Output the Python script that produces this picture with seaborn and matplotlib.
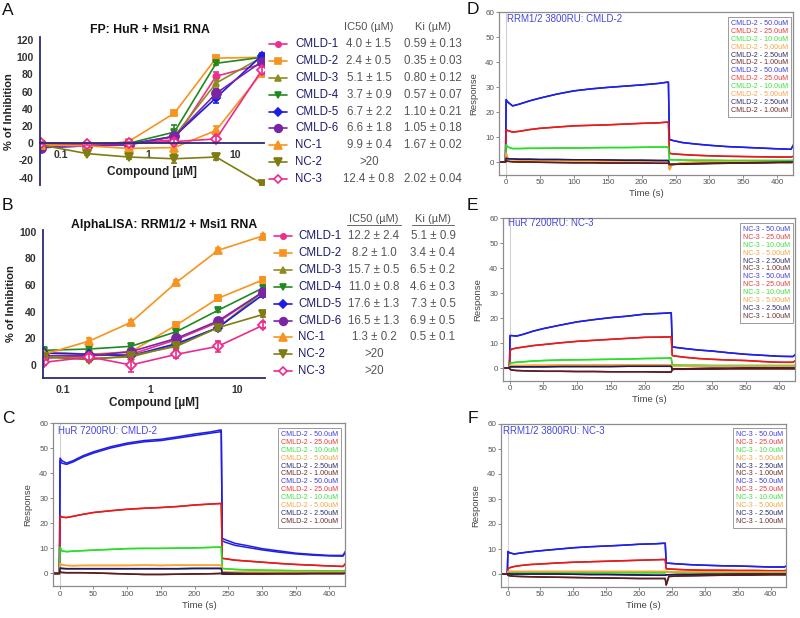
import numpy as np
import pandas as pd
import matplotlib
matplotlib.use("Agg")
import matplotlib.pyplot as plt
import seaborn as sns
from matplotlib.lines import Line2D

# ------------------------------------------------------------------ data
compounds = ["CMLD-1", "CMLD-2", "CMLD-3", "CMLD-4", "CMLD-5", "CMLD-6", "NC-1", "NC-2", "NC-3"]
doses = [0.06, 0.2, 0.6, 2, 6, 20]

fp_values = {
    "CMLD-1": [0, -1, 0, 4, 78, 92],
    "CMLD-2": [-2, -3, 2, 35, 99, 100],
    "CMLD-3": [-3, -3, -1, 8, 70, 100],
    "CMLD-4": [-3, -2, 0, 13, 93, 100],
    "CMLD-5": [-5, -3, -1, 8, 53, 102],
    "CMLD-6": [-5, -3, -2, 8, 58, 95],
    "NC-1": [-2, -3, -6, -5, 15, 82],
    "NC-2": [-2, -12, -16, -18, -16, -47],
    "NC-3": [0, -1, 0, 2, 5, 85],
}
fp_errors = {
    "CMLD-1": [2, 1, 1, 2, 5, 3], "CMLD-2": [1, 1, 1, 2, 2, 1],
    "CMLD-3": [1, 1, 1, 2, 4, 2], "CMLD-4": [1, 1, 1, 8, 2, 2],
    "CMLD-5": [1, 1, 1, 2, 6, 3], "CMLD-6": [1, 1, 1, 2, 5, 2],
    "NC-1": [1, 1, 1, 2, 5, 4], "NC-2": [1, 2, 2, 5, 3, 2],
    "NC-3": [1, 1, 1, 3, 3, 4],
}
fp_ic50 = ["4.0 ± 1.5", "2.4 ± 0.5", "5.1 ± 1.5", "3.7 ± 0.9", "6.7 ± 2.2",
           "6.6 ± 1.8", "9.9 ± 0.4", ">20", "12.4 ± 0.8"]
fp_ki = ["0.59 ± 0.13", "0.35 ± 0.03", "0.80 ± 0.12", "0.57 ± 0.07", "1.10 ± 0.21",
         "1.05 ± 0.18", "1.67 ± 0.02", "", "2.02 ± 0.04"]

al_values = {
    "CMLD-1": [5, 7, 8, 19, 32, 55],
    "CMLD-2": [10, 8, 10, 30, 50, 64],
    "CMLD-3": [6, 5, 6, 15, 28, 55],
    "CMLD-4": [11, 12, 14, 25, 41, 58],
    "CMLD-5": [9, 8, 7, 16, 28, 53],
    "CMLD-6": [7, 7, 10, 20, 33, 55],
    "NC-1": [8, 18, 32, 62, 86, 97],
    "NC-2": [6, 4, 7, 14, 28, 38],
    "NC-3": [2, 6, 0, 8, 14, 30],
}
al_errors = {
    "CMLD-1": [1, 1, 1, 2, 2, 2], "CMLD-2": [1, 2, 1, 2, 2, 2],
    "CMLD-3": [1, 2, 1, 2, 2, 2], "CMLD-4": [1, 1, 1, 1, 1, 2],
    "CMLD-5": [1, 1, 1, 1, 2, 2], "CMLD-6": [1, 1, 1, 2, 2, 2],
    "NC-1": [1, 2, 2, 2, 2, 1], "NC-2": [1, 2, 1, 2, 2, 2],
    "NC-3": [2, 2, 5, 3, 4, 2],
}
al_ic50 = ["12.2 ± 2.4", "8.2 ± 1.0", "15.7 ± 0.5", "11.0 ± 0.8", "17.6 ± 1.3",
           "16.5 ± 1.3", "1.3 ± 0.2", ">20", ">20"]
al_ki = ["5.1 ± 0.9", "3.4 ± 0.4", "6.5 ± 0.2", "4.6 ± 0.3", "7.3 ± 0.5",
         "6.9 ± 0.5", "0.5 ± 0.1", "", ""]

# SPR sensorgrams
spr_time = [-10, -0.5, 0.5, 3, 10, 20, 35, 50, 75, 100, 125, 150, 175, 200, 225, 238,
            239.5, 241, 245, 260, 280, 300, 325, 350, 375, 400, 420, 424]
conc_labels = ["50.0", "25.0", "10.0", "5.00", "2.50", "1.00"]

spr_C = {
    "50.0": [0, 0, 46, 45, 44, 45, 47, 48.5, 50.5, 52, 53, 53.5, 54.5, 55.6, 56.5, 57.2, 57.2, 14, 13.5, 12, 11, 9.9, 9, 8.1, 7.6, 7.2, 7.2, 9],
    "25.0": [0, 0, 23, 22.5, 22.3, 22.8, 23.6, 24.3, 25, 25.6, 26, 26.3, 26.7, 27.3, 27.7, 27.9, 27.9, 6, 5.9, 5.3, 4.9, 4.5, 4, 3.6, 3.3, 3, 2.8, 4],
    "10.0": [0, 0, 10.5, 9, 8.7, 8.9, 9.1, 9.3, 9.6, 9.9, 10, 10, 10.1, 10.2, 10.4, 10.5, 10.5, 2, 1.9, 1.6, 1.4, 1.3, 1.2, 1.1, 1.1, 1, 1, 1.2],
    "5.00": [0, 0, 4, 3.4, 3.2, 3.1, 3.2, 3.2, 3.2, 3.2, 3.3, 3.2, 3.3, 3.3, 3.3, 3.3, 3.3, 0.6, 0.6, 0.5, 0.5, 0.5, 0.5, 0.5, 0.5, 0.5, 0.5, 0.6],
    "2.50": [0, 0, 2.2, 2, 1.9, 1.9, 1.9, 1.9, 1.9, 1.9, 1.9, 1.9, 1.9, 2, 2, 2, 2, 0.2, 0.2, 0.1, 0, 0, 0, 0, 0, 0, 0, 0.2],
    "1.00": [0, 0, 0.6, 0.4, 0.3, 0.3, 0.3, 0.2, 0, -0.2, -0.4, -0.4, -0.3, -0.2, -0.1, 0, 0, -0.3, -0.3, -0.3, -0.2, -0.2, -0.1, -0.1, 0, 0, 0, 0],
}
spr_C_rep2 = {
    "50.0": [0, 0, 45, 44, 43.5, 44.5, 46.5, 48, 50, 51.5, 52.5, 53, 54, 55, 56, 56.5, 56.5, 13, 12.5, 11.2, 10.3, 9.4, 8.5, 7.8, 7.3, 7, 6.9, 8.5],
}
spr_D = {
    "50.0": [0, 0, 25, 24, 22.5, 23.2, 24.5, 25.6, 27.2, 28.5, 29.3, 29.9, 30.4, 30.9, 31.5, 32, 32, 9, 8.7, 7.8, 7.2, 6.7, 6.2, 5.9, 5.6, 5.3, 5.1, 7],
    "25.0": [0, 0, 13, 12.6, 12, 12.3, 13, 13.5, 14, 14.5, 14.7, 14.9, 15.2, 15.5, 15.7, 16, 16, 3.5, 3.3, 3, 2.7, 2.5, 2.3, 2.2, 2.1, 2, 2, 2.3],
    "10.0": [0, 0, 7, 6, 5.4, 5.4, 5.5, 5.5, 5.6, 5.6, 5.7, 5.8, 5.8, 5.9, 6, 6, 6, 1, 0.9, 0.8, 0.7, 0.7, 0.6, 0.6, 0.6, 0.6, 0.6, 0.7],
    "5.00": [0, 0, 3.6, 1.5, 0.9, 0.8, 0.7, 0.6, 0.6, 0.5, 0.5, 0.5, 0.5, 0.5, 0.5, 0.5, 0.5, -3.1, -1, -0.3, 0, 0, 0, 0, 0, 0, 0, 0.2],
    "2.50": [0, 0, 1.6, 1.3, 1.2, 1.1, 1.1, 1, 1, 0.9, 0.9, 0.8, 0.7, 0.7, 0.6, 0.6, 0.6, -1, -1, -0.8, -0.6, -0.5, -0.4, -0.3, -0.2, -0.1, 0, 0],
    "1.00": [0, 0, 0.5, 0.3, 0.1, 0, 0, -0.1, -0.2, -0.3, -0.3, -0.4, -0.4, -0.4, -0.5, -0.5, -0.5, -1, -0.9, -0.8, -0.7, -0.6, -0.5, -0.4, -0.3, -0.2, -0.2, -0.1],
}
spr_E = {
    "50.0": [0, 0, 13, 13, 12.8, 13.5, 14.8, 15.8, 17.2, 18.5, 19.4, 20.2, 20.8, 21.6, 21.9, 22.1, 22.1, 8.5, 8.3, 7.8, 7.2, 6.8, 6.1, 5.5, 5.1, 4.7, 4.6, 5.5],
    "25.0": [0, 0, 7, 7.6, 8, 8.4, 9, 9.4, 10.1, 10.7, 11.1, 11.5, 11.9, 12.3, 12.4, 12.5, 12.5, 5, 4.8, 4.3, 3.8, 3.5, 3.2, 3, 2.6, 2.3, 2.3, 3],
    "10.0": [0, 0, 2, 2.1, 2.3, 2.5, 2.8, 3, 3.2, 3.3, 3.4, 3.5, 3.6, 3.8, 3.9, 4, 4, 1.3, 1.2, 1.1, 1.1, 1, 1, 1, 1, 1, 1, 1.1],
    "5.00": [0, 0, 1, 1, 1, 1, 1.1, 1.1, 1.2, 1.2, 1.2, 1.3, 1.3, 1.3, 1.3, 1.3, 1.3, 0.8, 0.8, 0.8, 0.8, 0.8, 0.8, 0.8, 0.8, 0.8, 0.8, 0.9],
    "2.50": [0, 0, 0.5, 0.5, 0.5, 0.5, 0.5, 0.5, 0.6, 0.6, 0.6, 0.6, 0.7, 0.7, 0.7, 0.7, 0.7, -0.5, -0.4, -0.3, -0.2, -0.1, -0.1, 0, 0, 0, 0, 0],
    "1.00": [0, 0, -0.5, -0.8, -1, -1.1, -1.2, -1.3, -1.3, -1.4, -1.4, -1.5, -1.5, -1.5, -1.6, -1.6, -1.6, -0.6, -0.5, -0.5, -0.4, -0.4, -0.3, -0.3, -0.3, -0.3, -0.3, -0.3],
}
spr_F = {
    "50.0": [0, 0, 9, 8.5, 8, 8.4, 8.9, 9.3, 9.9, 10.5, 10.9, 11.2, 11.5, 11.9, 12.1, 12.3, 12.3, 4.3, 4.3, 4, 3.7, 3.5, 3.3, 3.2, 3, 2.8, 2.8, 3.2],
    "25.0": [0, 0, 2, 2.5, 3, 3.4, 3.8, 4, 4.4, 4.7, 4.9, 5.1, 5.3, 5.5, 5.7, 5.8, 5.8, 2.1, 2, 1.8, 1.6, 1.5, 1.5, 1.4, 1.4, 1.3, 1.3, 1.5],
    "10.0": [0, 0, 1, 0.6, 0.5, 0.5, 0.5, 0.5, 0.5, 0.5, 0.5, 0.5, 0.5, 0.5, 0.5, 0.5, 0.5, 1, 0.7, 0.6, 0.5, 0.5, 0.5, 0.5, 0.5, 0.5, 0.5, 0.6],
    "5.00": [0, 0, 1, 1, 1, 1, 1, 1, 1, 1, 1, 1, 1, 1, 1, 1, 1, 0.8, 0.8, 0.8, 0.8, 0.8, 0.8, 0.8, 0.8, 0.8, 0.8, 0.9],
    "2.50": [0, 0, 0.2, 0, 0, 0, 0, 0, 0, -0.1, -0.2, -0.2, -0.3, -0.4, -0.5, -0.5, -0.5, -0.3, -0.3, -0.2, -0.2, -0.1, -0.1, 0, 0, 0, 0, 0],
    "1.00": [0, 0, -0.5, -0.7, -0.9, -1, -1.1, -1.2, -1.3, -1.4, -1.5, -1.6, -1.7, -1.8, -1.8, -1.8, -1.8, -4.4, -1, -0.8, -0.7, -0.6, -0.5, -0.5, -0.4, -0.3, -0.3, -0.3],
}
spr_titles = ["HuR 7200RU: CMLD-2", "RRM1/2 3800RU: CMLD-2", "HuR 7200RU: NC-3", "RRM1/2 3800RU: NC-3"]
spr_compound = ["CMLD-2", "CMLD-2", "NC-3", "NC-3"]

# ------------------------------------------------------------------ style
sns.set_theme(style="white")
plt.rcParams["font.family"] = ["Liberation Sans", "DejaVu Sans"]
plt.rcParams["axes.unicode_minus"] = False

W, H = 800, 618
fig = plt.figure(figsize=(8, 6.18), dpi=100)


def rect(l, t, r, b):
    return [l / W, 1 - b / H, (r - l) / W, (b - t) / H]


def fx(x):
    return x / W


def fy(y):
    return 1 - y / H


NAVY = "#2a2a78"
styles = {
    "CMLD-1": dict(color="#ec2f8e", marker="o", ms=4.5, mfc="#ec2f8e"),
    "CMLD-2": dict(color="#f7931e", marker="s", ms=5, mfc="#f7931e"),
    "CMLD-3": dict(color="#8e8c1e", marker="^", ms=5, mfc="#8e8c1e"),
    "CMLD-4": dict(color="#1f8a1f", marker="v", ms=5, mfc="#1f8a1f"),
    "CMLD-5": dict(color="#1c1ce8", marker="D", ms=4.5, mfc="#1c1ce8"),
    "CMLD-6": dict(color="#7a26a4", marker="o", ms=6.5, mfc="#7a26a4"),
    "NC-1": dict(color="#f7931e", marker="^", ms=6, mfc="#f7931e"),
    "NC-2": dict(color="#7f7d12", marker="v", ms=6, mfc="#7f7d12"),
    "NC-3": dict(color="#ee2a8c", marker="D", ms=5, mfc="white"),
}


def dose_panel(ax, values, errors, ylim, yticks, title, title_xy, spine_at_zero):
    for c in compounds:
        st = styles[c]
        df = pd.DataFrame({"dose": doses, "val": values[c]})
        sns.lineplot(data=df, x="dose", y="val", ax=ax, color=st["color"], lw=1.2,
                     marker=st["marker"], markersize=st["ms"], markerfacecolor=st["mfc"],
                     markeredgecolor=st["color"], markeredgewidth=1.3, legend=False)
        ax.errorbar(doses, values[c], yerr=errors[c], fmt="none", ecolor=st["color"],
                    elinewidth=1.2, capsize=2.2, capthick=1.2)
    ax.set_xscale("log")
    ax.set_xlim(0.058, 21)
    ax.set_ylim(*ylim)
    ax.set_xticks([0.1, 1, 10])
    ax.set_xticklabels(["0.1", "1", "10"])
    ax.xaxis.set_minor_locator(matplotlib.ticker.NullLocator())
    ax.set_yticks(yticks)
    for s in ["top", "right"]:
        ax.spines[s].set_visible(False)
    for s in ["left", "bottom"]:
        ax.spines[s].set_color(NAVY)
        ax.spines[s].set_linewidth(1.3)
    if spine_at_zero:
        ax.spines["bottom"].set_position(("data", 0))
    ax.tick_params(axis="both", direction="out", length=3, width=1.1, color=NAVY,
                   labelsize=7.5, labelcolor="#333333", pad=1.5)
    for lab in ax.get_xticklabels() + ax.get_yticklabels():
        lab.set_fontweight("bold")
    ax.set_ylabel("% of Inhibition", fontsize=8, fontweight="bold", color="#222222", labelpad=2)
    ax.set_xlabel("Compound [µM]", fontsize=8.5, fontweight="bold", color="#222222", labelpad=2)
    fig.text(fx(title_xy[0]), fy(title_xy[1]), title, fontsize=8.8, fontweight="bold",
             ha="center", va="center", color="#111111")


axA = fig.add_axes(rect(39.8, 37.5, 263.7, 185.4))
dose_panel(axA, fp_values, fp_errors, (-49, 123), range(-40, 121, 20),
           "FP: HuR + Msi1 RNA", (150, 30), True)
axA.xaxis.set_label_coords(0.5, 0.13)
axA.xaxis.label.set_va("top")

axB = fig.add_axes(rect(42.7, 229.7, 265.3, 378.3))
dose_panel(axB, al_values, al_errors, (-10, 101.5), range(0, 101, 20),
           "AlphaLISA: RRM1/2 + Msi1 RNA", (164, 225), False)


def table(header_y, row0, step, mk_x, lab_x, ic_x, ki_x, ic50s, kis, underline):
    hdr_kw = dict(fontsize=8, color="#555555", ha="center", va="center")
    fig.text(fx(ic_x), fy(header_y), "IC50 (µM)", **hdr_kw)
    fig.text(fx(ki_x), fy(header_y), "Ki (µM)", **hdr_kw)
    if underline:
        for xc, wd in [(ic_x, 54), (ki_x, 42)]:
            fig.add_artist(Line2D([fx(xc - wd / 2), fx(xc + wd / 2)], [fy(header_y + 6)] * 2,
                                  transform=fig.transFigure, color="#666666", lw=0.7))
    for i, c in enumerate(compounds):
        y = row0 + i * step
        st = styles[c]
        fig.add_artist(Line2D([fx(mk_x - 9), fx(mk_x + 9)], [fy(y)] * 2,
                              transform=fig.transFigure, color=st["color"], lw=1.2))
        fig.add_artist(Line2D([fx(mk_x)], [fy(y)], transform=fig.transFigure,
                              color=st["color"], marker=st["marker"], ms=st["ms"] * 0.85,
                              mfc=st["mfc"], mec=st["color"], mew=1.2, lw=0))
        fig.text(fx(lab_x), fy(y), c, fontsize=8.3, color="#1b1b6b", ha="left", va="center")
        fig.text(fx(ic_x), fy(y), ic50s[i], fontsize=8.3, color="#555555", ha="center", va="center")
        if kis[i]:
            fig.text(fx(ki_x), fy(y), kis[i], fontsize=8.3, color="#555555", ha="center", va="center")


table(27, 44, 16.9, 278, 295, 369, 433, fp_ic50, fp_ki, False)
table(219, 236, 16.9, 283, 298, 374, 433, al_ic50, al_ki, True)

# ------------------------------------------------------------------ SPR panels
spr_colors = {"50.0": "#1f1fe6", "25.0": "#e41c1c", "10.0": "#2adf2a",
              "5.00": "#ffa12e", "2.50": "#1c1c5c", "1.00": "#5e1c1c"}
spr_text_colors = {"50.0": "#3d3de0", "25.0": "#e83a3a", "10.0": "#3ee23e",
                   "5.00": "#f5a545", "2.50": "#2c2c6c", "1.00": "#6e2a2a"}

# box edges in pixels (left, top, right, bottom)
spr_boxes = [(53, 423, 345, 586), (499, 12.3, 793, 174.5),
             (503, 218.3, 795, 380.5), (501, 424, 786, 586.5)]
spr_legend_anchor = [(341, 428), (791, 17), (793, 223), (786, 428)]
spr_title_pos = [(58, 431), (507, 19), (508, 223), (503, 431)]
spr_sets = [spr_C, spr_D, spr_E, spr_F]
spr_rep2 = [spr_C_rep2, {}, {}, {}]

for k in range(4):
    ax = fig.add_axes(rect(*spr_boxes[k]))
    ax.axvline(0, color="#d0d0d0", lw=0.8, zorder=0)
    data = spr_sets[k]
    handles = []
    for rep in range(2):
        for cl in conc_labels:
            vals = data[cl]
            if rep == 1 and cl in spr_rep2[k]:
                vals = spr_rep2[k][cl]
            df = pd.DataFrame({"t": spr_time, "r": vals})
            sns.lineplot(data=df, x="t", y="r", ax=ax, color=spr_colors[cl], lw=1.1,
                         legend=False, sort=False)
            handles.append(Line2D([], [], color=spr_colors[cl],
                                  label=f"{spr_compound[k]} - {cl}uM"))
    ax.set_xlim(-10, 423)
    ax.set_ylim(-5, 60)
    ax.set_xticks(range(0, 401, 50))
    ax.set_yticks(range(0, 61, 10))
    for s in ax.spines.values():
        s.set_color("#8c8c8c")
        s.set_linewidth(0.9)
    ax.tick_params(axis="both", direction="out", length=2, width=0.6, color="#777777",
                   labelsize=5.8, labelcolor="#555555", pad=1.5, bottom=True, left=True)
    ax.set_xlabel("Time (s)", fontsize=6.8, color="#444444", labelpad=2)
    ax.set_ylabel("Response", fontsize=6.8, color="#444444", labelpad=5)
    tx, ty = spr_title_pos[k]
    fig.text(fx(tx), fy(ty), spr_titles[k], fontsize=7, color="#4646dc", ha="left", va="center")
    ax_leg = spr_legend_anchor[k]
    leg = ax.legend(handles=handles, loc="upper right", bbox_to_anchor=(fx(ax_leg[0]), fy(ax_leg[1])),
                    bbox_transform=fig.transFigure, fontsize=5.1, labelspacing=0.12,
                    handlelength=0, handletextpad=0, borderpad=0.45, frameon=True,
                    fancybox=False, framealpha=1, edgecolor="#9a9a9a", borderaxespad=0)
    leg.get_frame().set_linewidth(0.7)
    for txt, cl in zip(leg.get_texts(), conc_labels * 2):
        txt.set_color(spr_text_colors[cl])
    for h in leg.legend_handles:
        h.set_visible(False)

# panel letters
for letter, (x, y) in {"A": (2, 3), "B": (2, 198), "C": (2, 411),
                       "D": (467, 2), "E": (467, 198), "F": (468, 411)}.items():
    fig.text(fx(x), fy(y), letter, fontsize=12.5, color="#111111", ha="left", va="top")

fig.savefig("out.png", dpi=100)
